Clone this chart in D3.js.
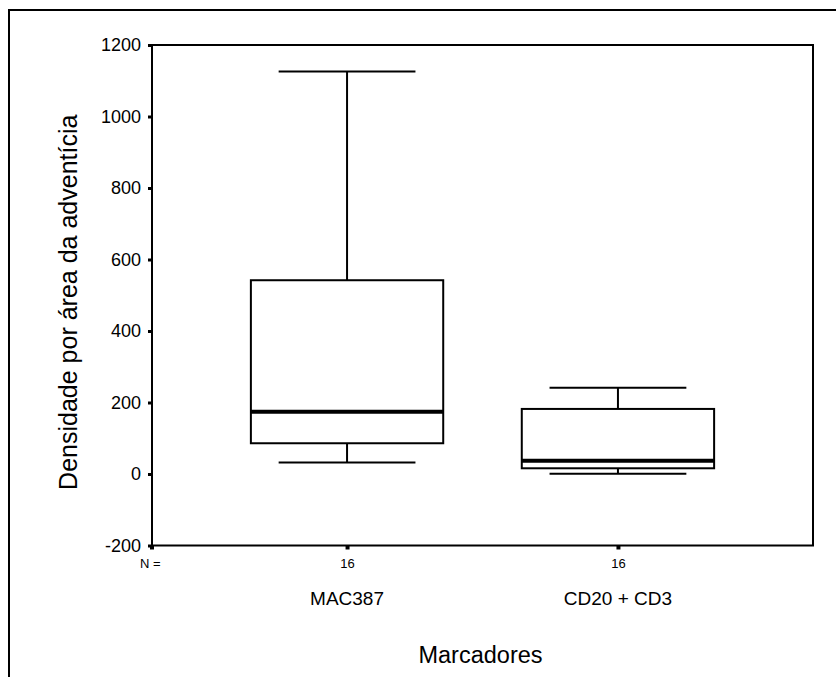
<!DOCTYPE html>
<html>
<head>
<meta charset="utf-8">
<script src="https://cdn.jsdelivr.net/npm/d3@7"></script>
<style>
  html, body { margin: 0; padding: 0; background: #fff; }
  svg { display: block; font-family: "Liberation Sans", Arial, Helvetica, sans-serif; }
</style>
</head>
<body>
<svg id="chart" width="836" height="677"></svg>
<script>
// Box plot summaries per marker (density per adventitial area)
const categories = ["MAC387", "CD20 + CD3"];
const counts = [16, 16];
const mins = [32, 1];
const q1s = [86, 16];
const medians = [174, 37];
const q3s = [542, 182];
const maxs = [1126, 241];
const yTicks = [-200, 0, 200, 400, 600, 800, 1000, 1200];

const svg = d3.select("#chart");
const W = 836, H = 677;
const plot = { left: 152, top: 45, right: 813, bottom: 545.5 };

// Outer frame
svg.append("rect")
  .attr("x", 9).attr("y", 10)
  .attr("width", W + 20).attr("height", H + 20)
  .attr("fill", "none").attr("stroke", "#000").attr("stroke-width", 2);

const x = d3.scalePoint().domain(categories)
  .range([plot.left, plot.right]).padding(0.72);
const step = x.step();
const y = d3.scaleLinear().domain([-200, 1200]).range([plot.bottom, plot.top]);

// Plot frame
svg.append("rect")
  .attr("x", plot.left).attr("y", plot.top)
  .attr("width", plot.right - plot.left).attr("height", plot.bottom - plot.top)
  .attr("fill", "none").attr("stroke", "#000").attr("stroke-width", 2);

// Y axis (plain hyphen for negatives)
const yAxis = svg.append("g")
  .attr("transform", `translate(${plot.left},0)`)
  .call(d3.axisLeft(y).tickValues(yTicks).tickSize(4).tickPadding(7).tickFormat(d => String(d)));
yAxis.select(".domain").remove();
yAxis.selectAll(".tick line").attr("stroke", "#000").attr("stroke-width", 3);
yAxis.selectAll(".tick text")
  .attr("fill", "#000").style("font-size", "18px")
  .attr("font-family", "Liberation Sans, Arial, sans-serif");

// X axis with N counts
const xAxis = svg.append("g")
  .attr("transform", `translate(0,${plot.bottom})`)
  .call(d3.axisBottom(x).tickSize(4).tickPadding(9).tickFormat((d, i) => counts[i]));
xAxis.select(".domain").remove();
xAxis.selectAll(".tick line").attr("stroke", "#000").attr("stroke-width", 4);
xAxis.selectAll(".tick text")
  .attr("fill", "#000").style("font-size", "13px")
  .attr("font-family", "Liberation Sans, Arial, sans-serif");

// "N =" marker at the axis corner
svg.append("line")
  .attr("x1", plot.left).attr("x2", plot.left)
  .attr("y1", plot.bottom).attr("y2", plot.bottom + 4)
  .attr("stroke", "#000").attr("stroke-width", 4);
svg.append("text")
  .attr("x", plot.left - 12).attr("y", plot.bottom + 22)
  .style("font-size", "13px").text("N =");

// Category labels
svg.selectAll("text.cat").data(categories).join("text")
  .attr("class", "cat")
  .attr("x", d => x(d)).attr("y", 605)
  .attr("text-anchor", "middle")
  .style("font-size", "19px")
  .text(d => d);

// Axis titles
svg.append("text")
  .attr("x", (plot.left + plot.right) / 2 - 2).attr("y", 663)
  .attr("text-anchor", "middle")
  .style("font-size", "23.5px")
  .text("Marcadores");

svg.append("text")
  .attr("transform", `translate(77,${(plot.top + plot.bottom) / 2 + 7}) rotate(-90)`)
  .attr("text-anchor", "middle")
  .style("font-size", "25px")
  .text("Densidade por área da adventícia");

// Box plots
const boxW = step * 0.71;
const capW = step * 0.505;
const boxes = svg.append("g").selectAll("g").data(categories).join("g");

boxes.append("line") // upper whisker
  .attr("x1", d => x(d)).attr("x2", d => x(d))
  .attr("y1", (d, i) => y(maxs[i])).attr("y2", (d, i) => y(q3s[i]))
  .attr("stroke", "#000").attr("stroke-width", 2);
boxes.append("line") // lower whisker
  .attr("x1", d => x(d)).attr("x2", d => x(d))
  .attr("y1", (d, i) => y(q1s[i])).attr("y2", (d, i) => y(mins[i]))
  .attr("stroke", "#000").attr("stroke-width", 2);
boxes.append("line") // max cap
  .attr("x1", d => x(d) - capW / 2).attr("x2", d => x(d) + capW / 2)
  .attr("y1", (d, i) => y(maxs[i])).attr("y2", (d, i) => y(maxs[i]))
  .attr("stroke", "#000").attr("stroke-width", 2);
boxes.append("line") // min cap
  .attr("x1", d => x(d) - capW / 2).attr("x2", d => x(d) + capW / 2)
  .attr("y1", (d, i) => y(mins[i])).attr("y2", (d, i) => y(mins[i]))
  .attr("stroke", "#000").attr("stroke-width", 2);
boxes.append("rect")
  .attr("x", d => x(d) - boxW / 2).attr("width", boxW)
  .attr("y", (d, i) => y(q3s[i]))
  .attr("height", (d, i) => y(q1s[i]) - y(q3s[i]))
  .attr("fill", "#fff").attr("stroke", "#000").attr("stroke-width", 2);
boxes.append("line") // median
  .attr("x1", d => x(d) - boxW / 2).attr("x2", d => x(d) + boxW / 2)
  .attr("y1", (d, i) => y(medians[i])).attr("y2", (d, i) => y(medians[i]))
  .attr("stroke", "#000").attr("stroke-width", 4);
</script>
</body>
</html>
